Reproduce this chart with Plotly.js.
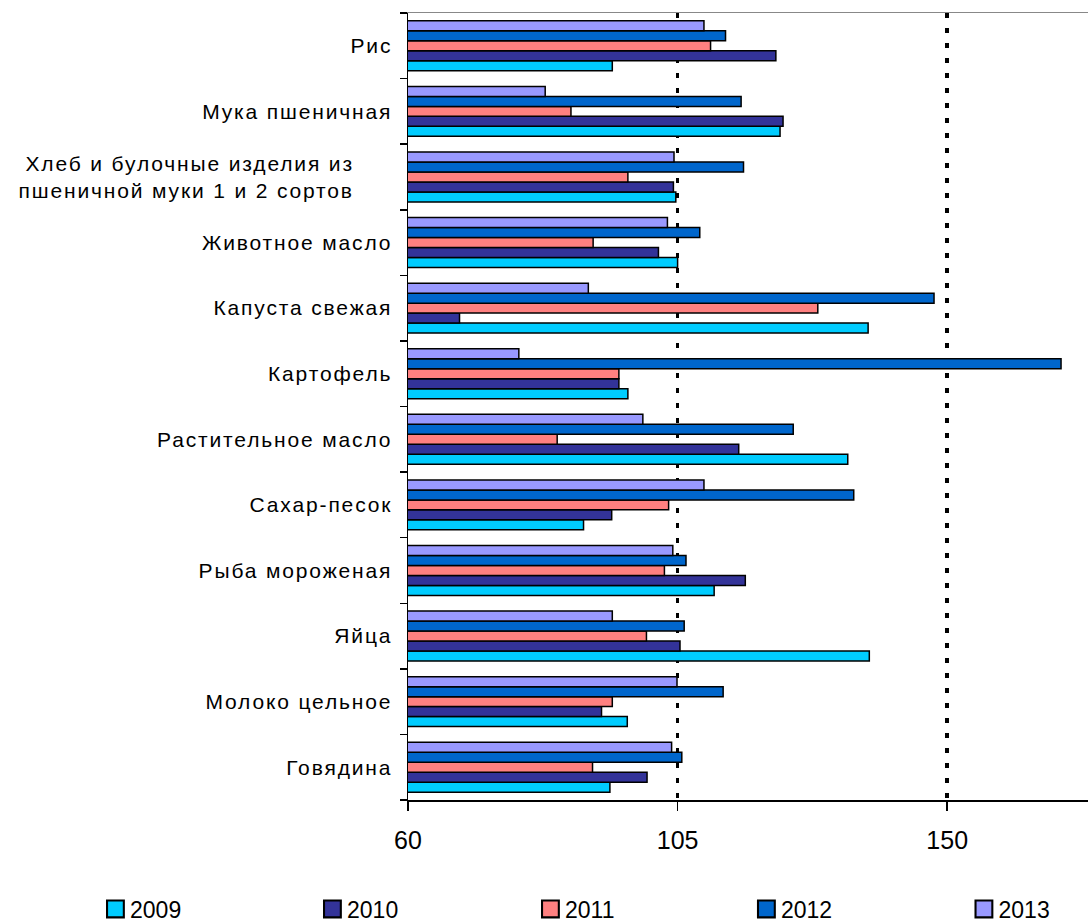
<!DOCTYPE html>
<html>
<head>
<meta charset="utf-8">
<script src="https://cdn.plot.ly/plotly-3.0.1.min.js"></script>
<style>
html,body{margin:0;padding:0;background:#fff;}
#chart{width:1088px;height:922px;}
#chart .ytick text{letter-spacing:1.85px;}
#chart g.legendpoints path{transform:translate(25.4px,0px) scale(1.4);}
</style>
</head>
<body>
<div id="chart"></div>
<script>
// Categories listed bottom to top
const categories = [
  "Говядина",
  "Молоко цельное",
  "Яйца",
  "Рыба мороженая",
  "Сахар-песок",
  "Растительное масло",
  "Картофель",
  "Капуста свежая",
  "Животное масло",
  "Хлеб и булочные изделия из\u00a0\u00a0\u00a0\u00a0\u00a0<br>пшеничной муки 1 и 2 сортов\u00a0\u00a0\u00a0\u00a0\u00a0",
  "Мука пшеничная",
  "Рис"
];
const years = ["2009", "2010", "2011", "2012", "2013"];
const v2009 = [93.7, 96.6, 137.0, 111.1, 89.3, 133.4, 96.7, 136.8, 105.0, 104.7, 122.1, 94.1];
const v2010 = [99.9, 92.3, 105.4, 116.3, 94.0, 115.2, 95.2, 68.6, 101.8, 104.3, 122.6, 121.4];
const v2011 = [90.8, 94.1, 99.8, 102.8, 103.5, 84.9, 95.2, 128.4, 90.9, 96.7, 87.2, 110.5];
const v2012 = [105.7, 112.6, 106.1, 106.4, 134.4, 124.3, 169.0, 147.8, 108.7, 116.0, 115.6, 113.0];
const v2013 = [104.0, 104.9, 94.1, 104.2, 109.4, 99.2, 78.5, 90.1, 103.3, 104.4, 82.9, 109.4];
const xTicks = [60, 105, 150];
const gridTicks = [105, 150];

const seriesValues = [v2009, v2010, v2011, v2012, v2013];
const colors = ["#00CCFF", "#333399", "#FF8080", "#0066CC", "#9999FF"];
const legendIds = ["legend", "legend2", "legend3", "legend4", "legend5"];
const legendX = [-0.4676, -0.1485, 0.1721, 0.4897, 0.8096];

const traces = years.map((yr, i) => ({
  type: "bar",
  orientation: "h",
  name: yr,
  y: categories,
  x: seriesValues[i],
  legend: legendIds[i],
  marker: { color: colors[i], line: { color: "#000", width: 1.5 } },
  hoverinfo: "x+name"
}));

const fontFam = "Liberation Sans, Arial, sans-serif";
const layout = {
  width: 1088,
  height: 922,
  paper_bgcolor: "#fff",
  plot_bgcolor: "#fff",
  margin: { l: 408, r: 0, t: 13, b: 122, autoexpand: false },
  barmode: "group",
  bargap: 0.24,
  bargroupgap: 0,
  font: { family: fontFam, color: "#000" },
  xaxis: {
    range: [60, 173.5],
    tickvals: xTicks,
    ticktext: xTicks.map(String),
    showgrid: false,
    zeroline: false,
    showline: true,
    linecolor: "#000",
    linewidth: 1.5,
    ticks: "outside",
    ticklen: 9,
    tickwidth: 1.5,
    tickcolor: "#000",
    tickfont: { size: 25, family: fontFam, color: "#000" },
    ticklabelstandoff: 8,
    automargin: false,
    fixedrange: true
  },
  xaxis2: {
    overlaying: "x",
    side: "top",
    range: [60, 173.5],
    tickvals: gridTicks,
    showticklabels: false,
    ticks: "",
    showgrid: true,
    gridcolor: "#000",
    gridwidth: 3.5,
    griddash: "5px,10px",
    zeroline: false,
    showline: true,
    linecolor: "#888",
    linewidth: 1.5,
    automargin: false,
    fixedrange: true
  },
  yaxis: {
    type: "category",
    tickson: "boundaries",
    ticks: "outside",
    ticklen: 7,
    tickwidth: 1.5,
    tickcolor: "#000",
    showline: true,
    linecolor: "#000",
    linewidth: 1.5,
    showgrid: false,
    zeroline: false,
    tickfont: { size: 21, family: fontFam, color: "#000" },
    ticklabelstandoff: 10,
    automargin: false,
    fixedrange: true
  },
  showlegend: true
};
legendIds.forEach((id, i) => {
  layout[id] = {
    x: legendX[i],
    xanchor: "left",
    y: -0.1385,
    yanchor: "middle",
    orientation: "h",
    bgcolor: "rgba(0,0,0,0)",
    font: { size: 23, family: fontFam, color: "#000" }
  };
});

// Empty trace on xaxis2 so the overlay axis (grid + top border) is drawn
traces.push({
  type: "scatter",
  x: [], y: [],
  xaxis: "x2",
  yaxis: "y",
  showlegend: false,
  hoverinfo: "skip"
});

Plotly.newPlot("chart", traces, layout, { displayModeBar: false, staticPlot: true });
</script>
</body>
</html>
